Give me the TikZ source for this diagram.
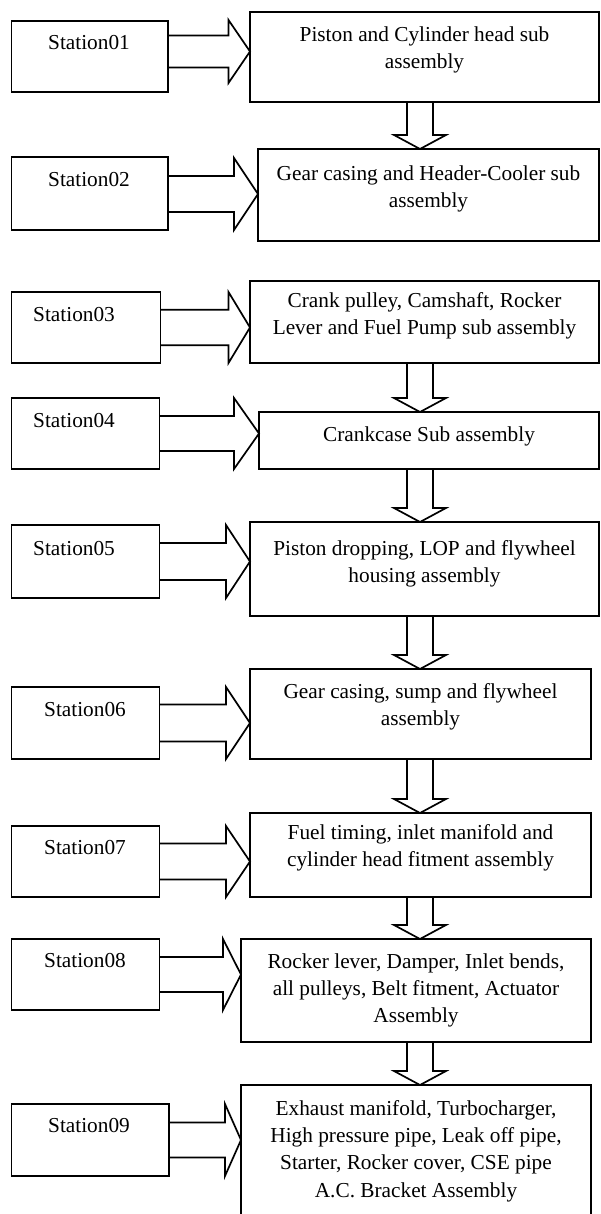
\documentclass[tikz,border=0pt]{standalone}
\usepackage{fontspec}
\setmainfont{Liberation Serif}
\usetikzlibrary{calc}

\tikzset{
  stationbox/.style={draw, line width=1.7pt, rectangle, inner sep=0pt, outer sep=0pt},
  stagebox/.style={draw, line width=1.7pt, rectangle, inner sep=0pt, outer sep=0pt},
  lbl/.style={inner sep=0pt, font=\fontsize{21.3}{27.2}\selectfont},
  stagetext/.style={lbl, align=center},
  blockarrow/.style={draw, line width=1.7pt, line join=miter},
}

% hollow arrow from a station into its stage: tail, tip, head length, shaft half-width, head half-height
\newcommand{\feedarrow}[5]{%
  \draw[blockarrow] ($(#1)+(0,-#4)$) -- ($(#2)+(-#3,-#4)$) -- ($(#2)+(-#3,-#5)$) -- (#2)
    -- ($(#2)+(-#3,#5)$) -- ($(#2)+(-#3,#4)$) -- ($(#1)+(0,#4)$);}

% hollow arrow from one stage down to the next: tail, tip
\newcommand{\passarrow}[2]{%
  \draw[blockarrow] ($(#1)+(-13,0)$) -- ($(#2)+(-13,-14)$) -- ($(#2)+(-26,-14)$) -- (#2)
    -- ($(#2)+(26,-14)$) -- ($(#2)+(13,-14)$) -- ($(#1)+(13,0)$);}

\begin{document}
\begin{tikzpicture}[x=1pt, y=-1pt]
\useasboundingbox (0,0) rectangle (601,1214);

% stations
\node[stationbox, minimum width=156.5pt, minimum height=71pt] (s1) at (89.75,56.5) {};
\node[stationbox, minimum width=156.5pt, minimum height=73pt] (s2) at (89.75,193.5) {};
\node[stationbox, minimum width=149pt, minimum height=71pt] (s3) at (86,327.5) {};
\node[stationbox, minimum width=148pt, minimum height=71pt] (s4) at (85.5,433.5) {};
\node[stationbox, minimum width=148pt, minimum height=73pt] (s5) at (85.5,561.5) {};
\node[stationbox, minimum width=148pt, minimum height=72pt] (s6) at (85.5,723) {};
\node[stationbox, minimum width=148pt, minimum height=71pt] (s7) at (85.5,861.5) {};
\node[stationbox, minimum width=148pt, minimum height=71pt] (s8) at (85.5,974.5) {};
\node[stationbox, minimum width=157.5pt, minimum height=72pt] (s9) at (90.25,1140) {};

\node[lbl] (s1l) at (89,43) {Station01};
\node[lbl] (s2l) at (89,179.5) {Station02};
\node[lbl, anchor=west] (s3l) at (33,314.5) {Station03};
\node[lbl, anchor=west] (s4l) at (33,420.5) {Station04};
\node[lbl, anchor=west] (s5l) at (33,549) {Station05};
\node[lbl] (s6l) at (85,710) {Station06};
\node[lbl] (s7l) at (85,848) {Station07};
\node[lbl] (s8l) at (85,961) {Station08};
\node[lbl] (s9l) at (89,1126) {Station09};

% assembly stages
\node[stagebox, minimum width=349pt, minimum height=90pt] (b1) at (424.5,57) {};
\node[stagebox, minimum width=341pt, minimum height=92pt] (b2) at (428.5,195) {};
\node[stagebox, minimum width=349pt, minimum height=82pt] (b3) at (424.5,322) {};
\node[stagebox, minimum width=340pt, minimum height=57pt] (b4) at (429,440.5) {};
\node[stagebox, minimum width=349pt, minimum height=94pt] (b5) at (424.5,569) {};
\node[stagebox, minimum width=341pt, minimum height=90pt] (b6) at (420.5,714) {};
\node[stagebox, minimum width=341pt, minimum height=84pt] (b7) at (420.5,855) {};
\node[stagebox, minimum width=350pt, minimum height=103pt] (b8) at (416,990.5) {};
\node[stagebox, minimum width=350pt, minimum height=133pt] (b9) at (416,1151.5) {};

\node[stagetext] (b1l) at (b1.center |- 0,50) {Piston and Cylinder head sub\\assembly};
\node[stagetext] (b2l) at (b2.center |- 0,189) {Gear casing and Header-Cooler sub\\assembly};
\node[stagetext] (b3l) at (b3.center |- 0,315.5) {Crank pulley, Camshaft, Rocker\\Lever and Fuel Pump sub assembly};
\node[stagetext] (b4l) at (b4.center |- 0,436) {Crankcase Sub assembly};
\node[stagetext] (b5l) at (b5.center |- 0,564) {Piston dropping, LOP and flywheel\\housing assembly};
\node[stagetext] (b6l) at (b6.center |- 0,707) {Gear casing, sump and flywheel\\assembly};
\node[stagetext] (b7l) at (b7.center |- 0,848) {Fuel timing, inlet manifold and\\cylinder head fitment assembly};
\node[stagetext] (b8l) at (b8.center |- 0,990.5) {Rocker lever, Damper, Inlet bends,\\all pulleys, Belt fitment, Actuator\\Assembly};
\node[stagetext] (b9l) at (b9.center |- 0,1151) {Exhaust manifold, Turbocharger,\\High pressure pipe, Leak off pipe,\\Starter, Rocker cover, CSE pipe\\A.C. Bracket Assembly};

% station feed arrows
\coordinate (a1t) at (s1.east |- 0,51.5);  \coordinate (a1h) at (b1.west |- 0,51.5);
\coordinate (a2t) at (s2.east |- 0,194);   \coordinate (a2h) at (b2.west |- 0,194);
\coordinate (a3t) at (s3.east |- 0,327.5); \coordinate (a3h) at (b3.west |- 0,327.5);
\coordinate (a4t) at (s4.east |- 0,433.5); \coordinate (a4h) at (b4.west |- 0,433.5);
\coordinate (a5t) at (s5.east |- 0,561.5); \coordinate (a5h) at (b5.west |- 0,561.5);
\coordinate (a6t) at (s6.east |- 0,723);   \coordinate (a6h) at (b6.west |- 0,723);
\coordinate (a7t) at (s7.east |- 0,861.5); \coordinate (a7h) at (b7.west |- 0,861.5);
\coordinate (a8t) at (s8.east |- 0,974.5); \coordinate (a8h) at (b8.west |- 0,974.5);
\coordinate (a9t) at (s9.east |- 0,1140);  \coordinate (a9h) at (b9.west |- 0,1140);

\feedarrow{a1t}{a1h}{21.5}{16}{31.5}
\feedarrow{a2t}{a2h}{24}{18}{36}
\feedarrow{a3t}{a3h}{21.5}{17.75}{35.5}
\feedarrow{a4t}{a4h}{25}{17.5}{35.5}
\feedarrow{a5t}{a5h}{24}{18.5}{36.5}
\feedarrow{a6t}{a6h}{24}{18.5}{36}
\feedarrow{a7t}{a7h}{24}{18}{35.5}
\feedarrow{a8t}{a8h}{18}{17.5}{35.5}
\feedarrow{a9t}{a9h}{16}{17.5}{36}

% stage to stage arrows
\coordinate (d1t) at (b1.south -| 420,0); \coordinate (d1h) at (b2.north -| 420,0);
\coordinate (d3t) at (b3.south -| 420,0); \coordinate (d3h) at (b4.north -| 420,0);
\coordinate (d4t) at (b4.south -| 420,0); \coordinate (d4h) at (b5.north -| 420,0);
\coordinate (d5t) at (b5.south -| 420,0); \coordinate (d5h) at (b6.north -| 420,0);
\coordinate (d6t) at (b6.south -| 420,0); \coordinate (d6h) at (b7.north -| 420,0);
\coordinate (d7t) at (b7.south -| 420,0); \coordinate (d7h) at (b8.north -| 420,0);
\coordinate (d8t) at (b8.south -| 420,0); \coordinate (d8h) at (b9.north -| 420,0);

\passarrow{d1t}{d1h}
\passarrow{d3t}{d3h}
\passarrow{d4t}{d4h}
\passarrow{d5t}{d5h}
\passarrow{d6t}{d6h}
\passarrow{d7t}{d7h}
\passarrow{d8t}{d8h}
\end{tikzpicture}
\end{document}
